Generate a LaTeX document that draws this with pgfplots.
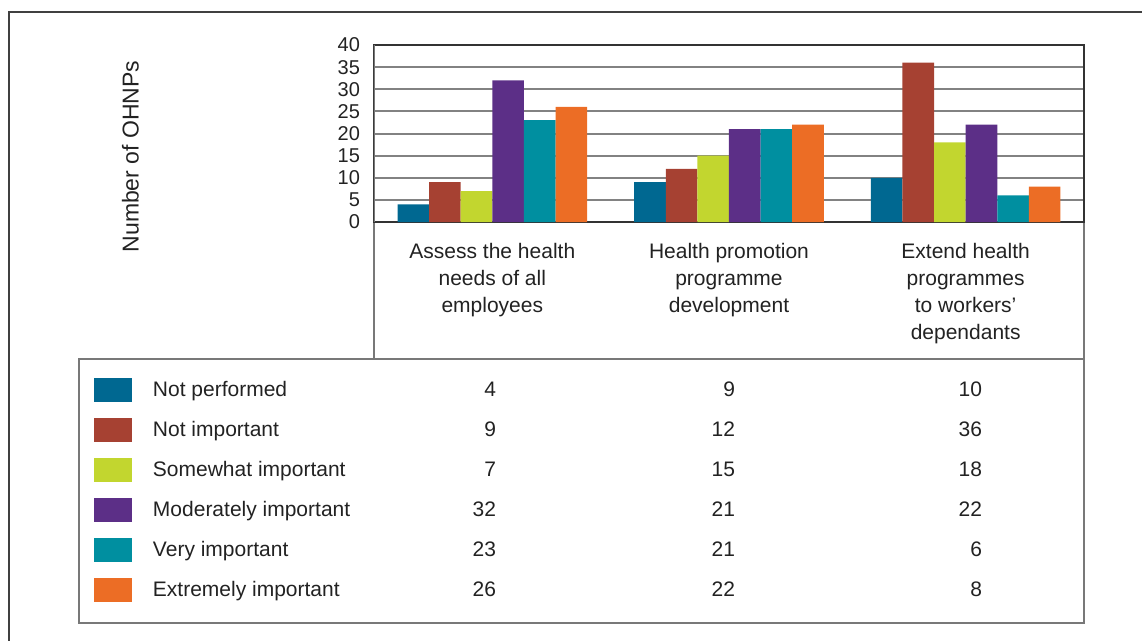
\documentclass[border=0pt]{standalone}
\usepackage{fontspec}
\setmainfont{Liberation Sans}
\usepackage{pgfplots}
\pgfplotsset{compat=1.18}
\definecolor{cNP}{RGB}{0,104,145}
\definecolor{cNI}{RGB}{166,65,50}
\definecolor{cSI}{RGB}{194,214,47}
\definecolor{cMI}{RGB}{92,47,135}
\definecolor{cVI}{RGB}{0,143,160}
\definecolor{cEI}{RGB}{236,109,37}
\definecolor{txt}{RGB}{34,34,34}
\definecolor{gridc}{RGB}{130,130,130}
\definecolor{framec}{RGB}{120,120,120}
\newcommand{\row}[4]{\makebox[171.5pt][l]{#1\hfill #2}\makebox[119.5pt][r]{#3}\makebox[123.5pt][r]{#4}}
\begin{document}
\begin{tikzpicture}
\begin{scope}[x=0.5pt,y=-0.5pt]
\useasboundingbox (0,0) rectangle (1142,641);
\draw[color=black!75,line width=0.8pt] (9,641) -- (9,12) -- (1142,12);
\draw[framec,line width=0.8pt] (374,222) -- (374,359);
\draw[framec,line width=0.8pt] (1084,222) -- (1084,359);
\draw[framec,line width=0.9pt] (79,359) rectangle (1084,623);
\end{scope}
\begin{axis}[
  at={(187pt,-111pt)}, anchor=south west,
  scale only axis, width=355pt, height=88.5pt,
  ybar=0pt, bar width=15.8pt,
  xmin=-0.5, xmax=2.5, ymin=0, ymax=40,
  xtick={0,1,2},
  xticklabels={{Assess the health\\needs of all\\employees},{Health promotion\\programme\\development},{Extend health\\programmes\\to workers'\\dependants}},
  ytick={0,5,...,40},
  major tick length=0pt,
  /pgf/number format/assume math mode=true,
  yticklabel style={font=\fontsize{10pt}{12pt}\selectfont, text=txt, xshift=-3.5pt},
  xticklabel style={font=\fontsize{10.5pt}{13.5pt}\selectfont, text=txt, align=center, yshift=-7pt},
  ymajorgrids, major grid style={gridc, line width=1pt},
  axis line style={black!80, line width=0.8pt},
  ylabel={Number of OHNPs},
  ylabel style={font=\fontsize{11.5pt}{13pt}\selectfont, text=txt, at={(axis description cs:-0.343,0.37)}, anchor=center},
  legend cell align=left,
  legend image code/.code={\fill[#1] (0pt,-6pt) rectangle (19pt,6pt);},
  legend style={draw=none, fill=none, inner sep=0pt, outer sep=0pt, row sep=0pt, column sep=10.5pt,
    at={(axis description cs:-0.3944,-0.8362)}, anchor=north west,
    nodes={inner sep=0pt, minimum height=20pt, font=\fontsize{10.5pt}{13.5pt}\selectfont, text=txt}},
]
\addplot[fill=cNP, draw=none] coordinates {(0,4) (1,9) (2,10)};
\addlegendentry{\row{Not performed}{4}{9}{10}}
\addplot[fill=cNI, draw=none] coordinates {(0,9) (1,12) (2,36)};
\addlegendentry{\row{Not important}{9}{12}{36}}
\addplot[fill=cSI, draw=none] coordinates {(0,7) (1,15) (2,18)};
\addlegendentry{\row{Somewhat important}{7}{15}{18}}
\addplot[fill=cMI, draw=none] coordinates {(0,32) (1,21) (2,22)};
\addlegendentry{\row{Moderately important}{32}{21}{22}}
\addplot[fill=cVI, draw=none] coordinates {(0,23) (1,21) (2,6)};
\addlegendentry{\row{Very important}{23}{21}{6}}
\addplot[fill=cEI, draw=none] coordinates {(0,26) (1,22) (2,8)};
\addlegendentry{\row{Extremely important}{26}{22}{8}}
\draw[framec, line width=0.8pt] (rel axis cs:0,0) -- (rel axis cs:0,1);
\end{axis}
\end{tikzpicture}
\end{document}
